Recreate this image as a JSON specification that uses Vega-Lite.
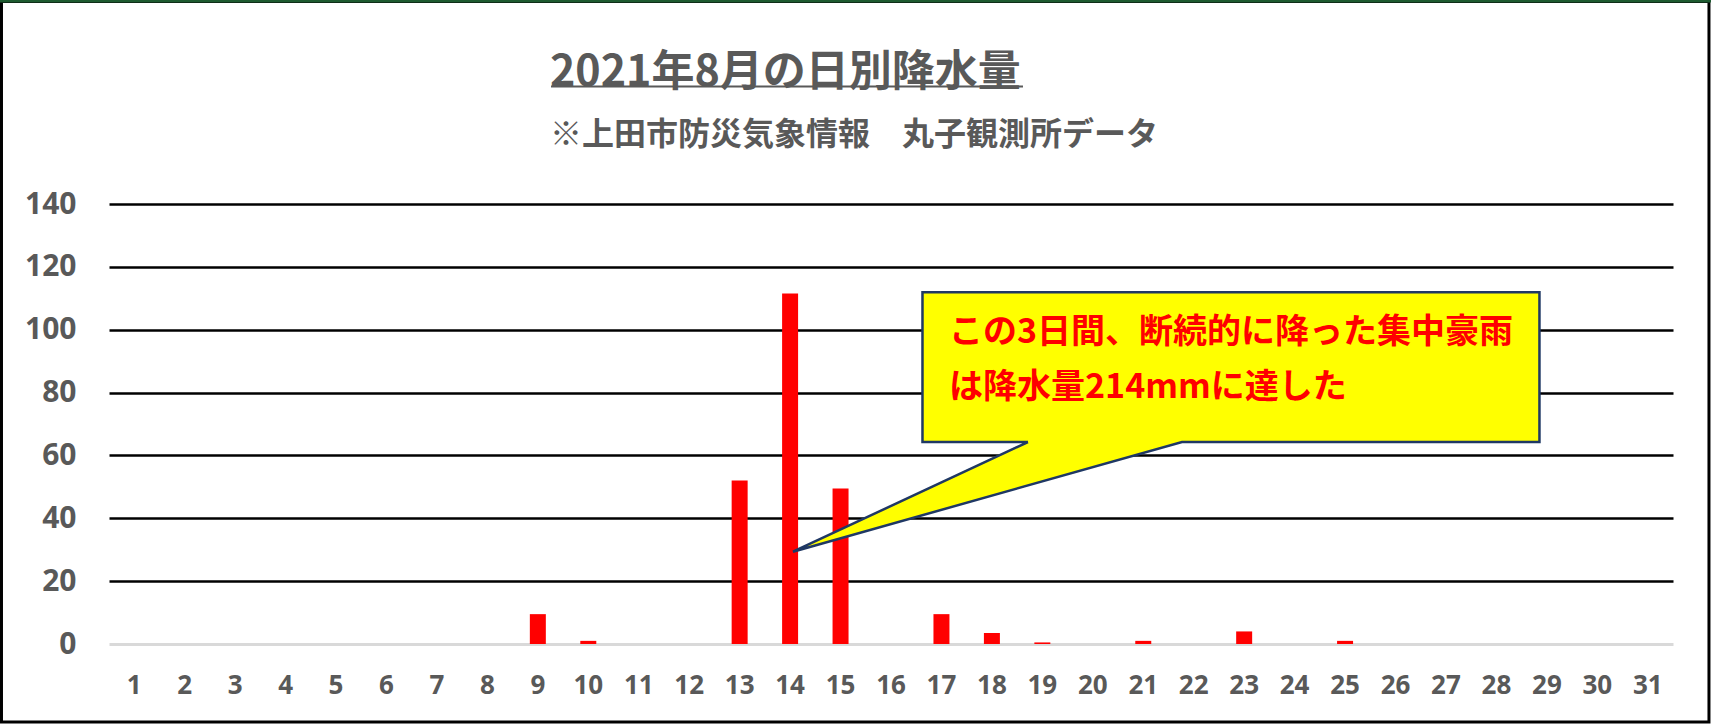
{
  "$schema": "https://vega.github.io/schema/vega-lite/v6.json",
  "width": 1564,
  "height": 440,
  "autosize": {"type": "none"},
  "padding": {"left": 109, "top": 204, "right": 38, "bottom": 80},
  "background": "white",
  "config": {"view": {"stroke": null}},
  "title": {
    "text": "2021年8月の日別降水量",
    "subtitle": "※上田市防災気象情報　丸子観測所データ",
    "anchor": "start",
    "frame": "group",
    "dx": 441,
    "offset": 0,
    "dy": 151,
    "font": "Noto Sans CJK JP",
    "fontSize": 43,
    "fontWeight": "bold",
    "color": "#595959",
    "subtitleFont": "Noto Sans CJK JP",
    "subtitleFontSize": 32,
    "subtitleFontWeight": "bold",
    "subtitleColor": "#595959",
    "subtitlePadding": 25
  },
  "datasets": {
    "rain": [
      {"day": 1, "mm": 0}, {"day": 2, "mm": 0}, {"day": 3, "mm": 0}, {"day": 4, "mm": 0},
      {"day": 5, "mm": 0}, {"day": 6, "mm": 0}, {"day": 7, "mm": 0}, {"day": 8, "mm": 0},
      {"day": 9, "mm": 9.5}, {"day": 10, "mm": 1.0}, {"day": 11, "mm": 0}, {"day": 12, "mm": 0},
      {"day": 13, "mm": 52}, {"day": 14, "mm": 111.5}, {"day": 15, "mm": 49.5}, {"day": 16, "mm": 0},
      {"day": 17, "mm": 9.5}, {"day": 18, "mm": 3.5}, {"day": 19, "mm": 0.5}, {"day": 20, "mm": 0},
      {"day": 21, "mm": 1.0}, {"day": 22, "mm": 0}, {"day": 23, "mm": 4.0}, {"day": 24, "mm": 0},
      {"day": 25, "mm": 1.0}, {"day": 26, "mm": 0}, {"day": 27, "mm": 0}, {"day": 28, "mm": 0},
      {"day": 29, "mm": 0}, {"day": 30, "mm": 0}, {"day": 31, "mm": 0}
    ],
    "box": [{"x1": 16.624, "x2": 28.853, "y1": 111.9, "y2": 64.27}],
    "tri": [
      {"x": 14.057, "y": 29.37, "y2": 29.37},
      {"x": 18.715, "y": 64.6, "y2": 50.45},
      {"x": 21.768, "y": 64.6, "y2": 64.27}
    ],
    "outline": [
      {"o": 0, "x": 18.715, "y": 64.27},
      {"o": 1, "x": 14.057, "y": 29.37},
      {"o": 2, "x": 21.768, "y": 64.27},
      {"o": 3, "x": 28.853, "y": 64.27},
      {"o": 4, "x": 28.853, "y": 111.9},
      {"o": 5, "x": 16.624, "y": 111.9},
      {"o": 6, "x": 16.624, "y": 64.27},
      {"o": 7, "x": 18.715, "y": 64.27}
    ],
    "note": [
      {"x": 17.15, "y": 99.1, "t": "この3日間、断続的に降った集中豪雨"},
      {"x": 17.15, "y": 81.6, "t": "は降水量214mmに達した"}
    ],
    "underline": [{"x1": 9.261, "x2": 18.616, "y": 177.4}],
    "frame": [{"x1": -1.631, "x2": 32.213, "y1": 204.43, "y2": -24.82}],
    "frametop": [{"x1": -2.1, "x2": 32.7, "y": 204.59}]
  },
  "resolve": {"scale": {"x": "independent"}, "axis": {"x": "independent"}},
  "layer": [
    {
      "data": {"name": "rain"},
      "mark": {"type": "bar", "color": "#ff0000"},
      "encoding": {
        "x": {
          "field": "day", "type": "ordinal",
          "scale": {"paddingInner": 0.683, "paddingOuter": 0.3415},
          "axis": {
            "title": null, "labelAngle": 0, "domain": false, "ticks": false,
            "labelPadding": 28, "labelFont": "Open Sans", "labelFontSize": 26,
            "labelFontWeight": "bold", "labelColor": "#595959"
          }
        },
        "y": {
          "field": "mm", "type": "quantitative", "title": null,
          "scale": {"domain": [0, 140], "nice": false, "zero": true},
          "axis": {
            "values": [0, 20, 40, 60, 80, 100, 120, 140],
            "domain": false, "ticks": false, "labelPadding": 33,
            "labelFont": "Open Sans", "labelFontSize": 30, "labelFontWeight": "bold",
            "labelColor": "#595959",
            "grid": true,
            "gridColor": {"condition": {"test": "datum.value === 0", "value": "#d9d9d9"}, "value": "#000000"},
            "gridWidth": {"condition": {"test": "datum.value === 0", "value": 3}, "value": 2.5}
          }
        }
      }
    },
    {
      "data": {"name": "box"},
      "mark": {"type": "rect", "fill": "#ffff00", "stroke": null},
      "encoding": {
        "x": {"field": "x1", "type": "quantitative", "scale": {"domain": [0.5, 31.5], "nice": false, "zero": false}, "axis": null},
        "x2": {"field": "x2"},
        "y": {"field": "y1", "type": "quantitative", "title": null, "scale": {"domain": [0, 140], "nice": false}},
        "y2": {"field": "y2"}
      }
    },
    {
      "data": {"name": "tri"},
      "mark": {"type": "area", "orient": "vertical", "fill": "#ffff00", "stroke": null},
      "encoding": {
        "x": {"field": "x", "type": "quantitative", "scale": {"domain": [0.5, 31.5], "nice": false, "zero": false}, "axis": null},
        "y": {"field": "y", "type": "quantitative", "title": null, "scale": {"domain": [0, 140], "nice": false}},
        "y2": {"field": "y2"}
      }
    },
    {
      "data": {"name": "outline"},
      "mark": {"type": "line", "stroke": "#1f3864", "strokeWidth": 2.5, "strokeJoin": "miter"},
      "encoding": {
        "x": {"field": "x", "type": "quantitative", "scale": {"domain": [0.5, 31.5], "nice": false, "zero": false}, "axis": null},
        "y": {"field": "y", "type": "quantitative", "title": null, "scale": {"domain": [0, 140], "nice": false}},
        "order": {"field": "o", "type": "quantitative"}
      }
    },
    {
      "data": {"name": "note"},
      "mark": {"type": "text", "align": "left", "baseline": "middle", "font": "Noto Sans CJK JP", "fontSize": 34, "fontWeight": "bold", "color": "#ff0000"},
      "encoding": {
        "x": {"field": "x", "type": "quantitative", "scale": {"domain": [0.5, 31.5], "nice": false, "zero": false}, "axis": null},
        "y": {"field": "y", "type": "quantitative", "title": null, "scale": {"domain": [0, 140], "nice": false}},
        "text": {"field": "t"}
      }
    },
    {
      "data": {"name": "underline"},
      "mark": {"type": "rule", "color": "#595959", "strokeWidth": 2},
      "encoding": {
        "x": {"field": "x1", "type": "quantitative", "scale": {"domain": [0.5, 31.5], "nice": false, "zero": false}, "axis": null},
        "x2": {"field": "x2"},
        "y": {"field": "y", "type": "quantitative", "title": null, "scale": {"domain": [0, 140], "nice": false}}
      }
    },
    {
      "data": {"name": "frame"},
      "mark": {"type": "rect", "filled": false, "stroke": "#000000", "strokeWidth": 3},
      "encoding": {
        "x": {"field": "x1", "type": "quantitative", "scale": {"domain": [0.5, 31.5], "nice": false, "zero": false}, "axis": null},
        "x2": {"field": "x2"},
        "y": {"field": "y1", "type": "quantitative", "title": null, "scale": {"domain": [0, 140], "nice": false}},
        "y2": {"field": "y2"}
      }
    },
    {
      "data": {"name": "frametop"},
      "mark": {"type": "rule", "color": "#1d5a30", "strokeWidth": 3},
      "encoding": {
        "x": {"field": "x1", "type": "quantitative", "scale": {"domain": [0.5, 31.5], "nice": false, "zero": false}, "axis": null},
        "x2": {"field": "x2"},
        "y": {"field": "y", "type": "quantitative", "title": null, "scale": {"domain": [0, 140], "nice": false}}
      }
    }
  ]
}
